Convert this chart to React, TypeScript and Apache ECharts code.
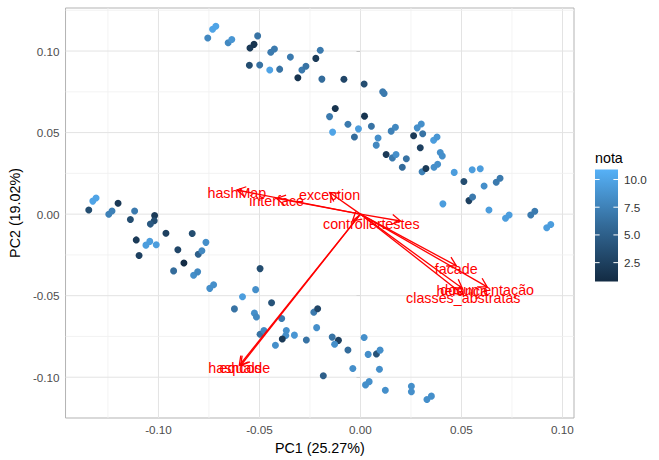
import React, { useEffect, useRef } from "react";
import * as echarts from "echarts";

const FONT = '"Liberation Sans", Arial, Helvetica, sans-serif';

// Scores (PC1, PC2) and colour variable "nota"
const PC1 = [
  -0.0756, -0.0732, -0.0716, -0.0655, -0.0637, -0.0547, -0.0527, -0.0509, -0.055, -0.0499,
  -0.0449, -0.0444, -0.0426, -0.04, -0.0347, -0.031, -0.029, -0.027, -0.0221, -0.0199,
  -0.0191, -0.0082, 0.0018, 0.011, 0.0117, -0.0125, -0.0153, -0.0138, -0.0062, 0.002,
  -0.001, -0.003, 0.0054, 0.0087, 0.0078, 0.0127, 0.0158, 0.0176, 0.0227, 0.0207,
  0.0152, 0.0173, 0.0263, 0.0281, 0.0301, 0.0308, 0.0296, 0.0362, 0.0379, 0.0395,
  0.0405, 0.0305, 0.0324, 0.0364, 0.0382, 0.0464, 0.0512, 0.0553, 0.0593, 0.0612,
  0.0672, 0.0691, 0.0408, 0.0537, 0.0555, 0.0636, 0.0718, 0.0736, 0.0843, 0.0863,
  0.0922, 0.0942, -0.1345, -0.1325, -0.1309, -0.12, -0.1246, -0.123, -0.1118, -0.1139,
  -0.1019, -0.1021, -0.104, -0.111, -0.1096, -0.1062, -0.1043, -0.1011, -0.0963, -0.0904,
  -0.0874, -0.0833, -0.0803, -0.0785, -0.0765, -0.0925, -0.0826, -0.0806, -0.0746, -0.0727,
  -0.0497, -0.0519, -0.0584, -0.0624, -0.044, -0.0525, -0.0515, -0.039, -0.0497, -0.0478,
  -0.0367, -0.037, -0.0387, -0.0421, -0.0327, -0.0268, -0.0231, -0.0212, -0.0217, -0.014,
  -0.0109, -0.0128, -0.0062, 0.0018, 0.0038, 0.0079, 0.0097, -0.0038, 0.0094, -0.0184,
  0.0025, 0.0043, 0.0123, 0.0252, 0.0252, 0.0329, 0.0351,
];
const PC2 = [
  0.108, 0.1134, 0.1152, 0.1051, 0.1071, 0.1019, 0.1041, 0.1093, 0.0913, 0.0914,
  0.0884, 0.0993, 0.1013, 0.0889, 0.0963, 0.0836, 0.0884, 0.0907, 0.0955, 0.1005,
  0.0828, 0.0827, 0.0798, 0.075, 0.074, 0.0648, 0.0598, 0.0503, 0.0551, 0.0601,
  0.0523, 0.0473, 0.0539, 0.0467, 0.0423, 0.0366, 0.0345, 0.0366, 0.034, 0.0288,
  0.0509, 0.0533, 0.0481, 0.0529, 0.0553, 0.0493, 0.0407, 0.0453, 0.0473, 0.0378,
  0.0357, 0.026, 0.028, 0.0288, 0.0306, 0.0256, 0.02, 0.0272, 0.0278, 0.0173,
  0.0196, 0.022, 0.0063, 0.0083, 0.0105, 0.0025, -0.0025, -0.0005, -0.0005, 0.0018,
  -0.0083, -0.0063, 0.0025, 0.008, 0.0099, 0.0067, -0.0001, 0.0019, 0.0019, -0.0033,
  -0.0009, -0.0041, -0.0061, -0.0158, -0.0254, -0.019, -0.0167, -0.0188, -0.0117, -0.0218,
  -0.03, -0.0119, -0.0246, -0.0224, -0.0173, -0.0348, -0.0375, -0.0354, -0.0455, -0.0433,
  -0.0334, -0.0463, -0.0507, -0.0581, -0.0543, -0.0607, -0.0631, -0.064, -0.0736, -0.0714,
  -0.0714, -0.0744, -0.0766, -0.0804, -0.0742, -0.0772, -0.0601, -0.058, -0.0696, -0.0754,
  -0.0774, -0.0798, -0.0833, -0.0756, -0.086, -0.0857, -0.0834, -0.0947, -0.0951, -0.0991,
  -0.1047, -0.1027, -0.108, -0.1055, -0.1089, -0.1137, -0.1116,
];
const NOTA = [
  8, 10, 10, 8, 9, 2, 1.5, 6.5, 3.5, 6.5,
  10, 7, 7, 6.5, 7, 1.5, 7, 6.5, 2, 7,
  6, 3, 3.5, 7, 7, 1.5, 7, 10, 7, 1.5,
  9.5, 6, 6.5, 8.5, 8, 2, 7, 8.5, 6.5, 6,
  7.5, 8, 2, 8.5, 8.5, 6.5, 2.5, 9.5, 9, 8.5,
  8.5, 7.5, 2, 8.5, 8.5, 9.5, 3.5, 9.5, 9.5, 8.5,
  7, 7, 9.5, 2.5, 7, 9.5, 9.5, 9.5, 7, 7,
  9.5, 9.5, 3.5, 10, 10, 2, 7.5, 7.5, 7, 3.5,
  2, 3.5, 4.5, 2, 2.5, 9.5, 9.5, 9.5, 2.5, 3,
  1, 3.5, 5, 8, 8.5, 6, 8.5, 8, 8.5, 8.5,
  3.5, 8.5, 9.5, 6.5, 4, 8.5, 8, 7, 6.5, 8,
  8.5, 8.5, 2, 8.5, 9, 6.5, 7, 3, 8.5, 6.5,
  2.5, 8.5, 6, 8.5, 8.5, 4, 8.5, 8.5, 8.5, 5,
  8.5, 8.5, 8.5, 8.5, 8.5, 8.5, 8.5,
];

// Loadings (arrows)
const LOADING_NAMES = [
  "hashMap", "interface", "exception", "controller", "testes", "facade",
  "herança", "documentação", "classes_abstratas", "hashcode", "equals",
];
const LOADING_PC1 = [-0.0612, -0.0415, -0.0153, -0.004, 0.0198, 0.0474, 0.0504, 0.0627, 0.0509, -0.06, -0.0593];
const LOADING_PC2 = [0.0148, 0.0096, 0.0133, -0.0042, -0.0042, -0.0316, -0.0455, -0.0446, -0.0494, -0.0928, -0.0928];

// Axes
const X_MIN = -0.146;
const X_MAX = 0.1057;
const Y_MIN = -0.125;
const Y_MAX = 0.1264;
const X_TICKS = [-0.1, -0.05, 0, 0.05, 0.1];
const Y_TICKS = [-0.1, -0.05, 0, 0.05, 0.1];
const X_MINOR = [-0.125, -0.075, -0.025, 0.025, 0.075];
const Y_MINOR = [-0.075, -0.025, 0.025, 0.075, 0.125];

// Colour scale legend
const NOTA_MIN = 0.8;
const NOTA_MAX = 10.9;
const LEGEND_BREAKS = [2.5, 5, 7.5, 10];
const COLOR_LOW = "#132B43";
const COLOR_MID = "#336A98";
const COLOR_HIGH = "#56B1F7";

export default function App() {
  const ref = useRef<HTMLDivElement>(null);

  useEffect(() => {
    document.body.style.margin = "0";
    const chart = echarts.init(ref.current!, null, { renderer: "svg" });

    const gridData: number[][] = [
      ...X_MINOR.map((v) => [0, v, 0]),
      ...X_TICKS.map((v) => [0, v, 1]),
      ...Y_MINOR.map((v) => [1, v, 0]),
      ...Y_TICKS.map((v) => [1, v, 1]),
    ];

    // legend geometry
    const barX = 595;
    const barY = 169.5;
    const barW = 23;
    const barH = 112;
    const valToY = (v: number) => barY + ((NOTA_MAX - v) / (NOTA_MAX - NOTA_MIN)) * barH;
    const legendEls: any[] = [
      {
        type: "text",
        left: barX,
        top: 151,
        style: { text: "nota", fill: "#000", font: `14.3px ${FONT}` },
      },
      {
        type: "rect",
        shape: { x: barX, y: barY, width: barW, height: barH },
        style: {
          fill: new echarts.graphic.LinearGradient(0, 0, 0, 1, [
            { offset: 0, color: COLOR_HIGH },
            { offset: 0.5, color: COLOR_MID },
            { offset: 1, color: COLOR_LOW },
          ]),
        },
      },
    ];
    LEGEND_BREAKS.forEach((b) => {
      const y = valToY(b);
      legendEls.push(
        { type: "line", shape: { x1: barX, y1: y, x2: barX + 4.6, y2: y }, style: { stroke: "#fff", lineWidth: 1 } },
        { type: "line", shape: { x1: barX + barW - 4.6, y1: y, x2: barX + barW, y2: y }, style: { stroke: "#fff", lineWidth: 1 } },
        {
          type: "text",
          x: barX + barW + 6,
          y,
          style: { text: b.toFixed(1), fill: "#333", font: `11.7px ${FONT}`, verticalAlign: "middle", align: "left" },
        }
      );
    });

    const option: any = {
      animation: false,
      backgroundColor: "#fff",
      grid: {
        left: 64,
        right: 85,
        top: 8,
        bottom: 35,
        show: true,
        borderColor: "#B3B3B3",
        borderWidth: 1,
        backgroundColor: "#fff",
      },
      xAxis: {
        type: "value",
        min: X_MIN,
        max: X_MAX,
        axisLine: { show: false },
        splitLine: { show: false },
        axisTick: { show: true, length: 4, lineStyle: { color: "#9a9a9a" }, customValues: X_TICKS },
        axisLabel: {
          customValues: X_TICKS,
          formatter: (v: number) => v.toFixed(2),
          color: "#4D4D4D",
          fontSize: 11.7,
          fontFamily: FONT,
          margin: 5,
        },
        name: "PC1 (25.27%)",
        nameLocation: "middle",
        nameGap: 23,
        nameTextStyle: { color: "#000", fontSize: 14.3, fontFamily: FONT },
      },
      yAxis: {
        type: "value",
        min: Y_MIN,
        max: Y_MAX,
        axisLine: { show: false },
        splitLine: { show: false },
        axisTick: { show: true, length: 4, lineStyle: { color: "#9a9a9a" }, customValues: Y_TICKS },
        axisLabel: {
          customValues: Y_TICKS,
          formatter: (v: number) => v.toFixed(2),
          color: "#4D4D4D",
          fontSize: 11.7,
          fontFamily: FONT,
          margin: 6,
        },
        name: "PC2 (19.02%)",
        nameLocation: "middle",
        nameGap: 29,
        nameRotate: 90,
        nameTextStyle: { color: "#000", fontSize: 14.3, fontFamily: FONT },
      },
      visualMap: {
        show: false,
        type: "continuous",
        min: NOTA_MIN,
        max: NOTA_MAX,
        dimension: 2,
        seriesIndex: 1,
        inRange: { color: [COLOR_LOW, COLOR_MID, COLOR_HIGH] },
      },
      graphic: legendEls,
      series: [
        {
          type: "custom",
          z: 1,
          silent: true,
          data: gridData,
          encode: { x: 1, y: 1 },
          renderItem: (params: any, api: any) => {
            const cs = params.coordSys;
            const orient = api.value(0);
            const v = api.value(1);
            const major = api.value(2) === 1;
            const style = { stroke: major ? "#E3E3E3" : "#F0F0F0", lineWidth: major ? 1 : 0.8 };
            if (orient === 0) {
              const px = api.coord([v, 0])[0];
              return { type: "line", shape: { x1: px, y1: cs.y, x2: px, y2: cs.y + cs.height }, style };
            }
            const py = api.coord([0, v])[1];
            return { type: "line", shape: { x1: cs.x, y1: py, x2: cs.x + cs.width, y2: py }, style };
          },
        },
        {
          type: "scatter",
          z: 2,
          symbolSize: 7,
          itemStyle: { opacity: 1 },
          data: PC1.map((x, i) => [x, PC2[i], NOTA[i]]),
        },
        {
          type: "custom",
          z: 3,
          silent: true,
          data: LOADING_PC1.map((x, i) => [x, LOADING_PC2[i]]),
          renderItem: (params: any, api: any) => {
            const start = api.coord([0, 0]);
            const end = api.coord([api.value(0), api.value(1)]);
            const ang = Math.atan2(end[1] - start[1], end[0] - start[0]);
            const len = 10;
            const spread = Math.PI / 6;
            const p1 = [end[0] - len * Math.cos(ang - spread), end[1] - len * Math.sin(ang - spread)];
            const p2 = [end[0] - len * Math.cos(ang + spread), end[1] - len * Math.sin(ang + spread)];
            const st = { stroke: "#FF0000", lineWidth: 1.3, fill: "none" };
            return {
              type: "group",
              children: [
                { type: "line", shape: { x1: start[0], y1: start[1], x2: end[0], y2: end[1] }, style: st },
                { type: "polyline", shape: { points: [p1, end, p2] }, style: st },
              ],
            };
          },
        },
        {
          type: "custom",
          z: 4,
          silent: true,
          data: LOADING_PC1.map((x, i) => [x, LOADING_PC2[i]]),
          renderItem: (params: any, api: any) => {
            const end = api.coord([api.value(0), api.value(1)]);
            return {
              type: "text",
              x: end[0],
              y: end[1] + 3,
              style: {
                text: LOADING_NAMES[params.dataIndex],
                fill: "#FF0000",
                font: `14.3px ${FONT}`,
                align: "center",
                verticalAlign: "middle",
              },
            };
          },
        },
      ],
    };

    chart.setOption(option);
    return () => chart.dispose();
  }, []);

  return <div ref={ref} style={{ width: 659, height: 460 }} />;
}
